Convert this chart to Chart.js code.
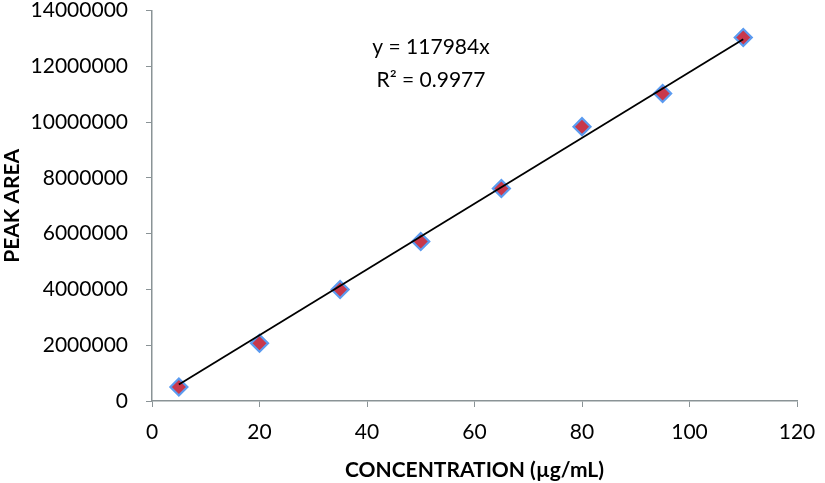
<!DOCTYPE html>
<html>
<head>
<meta charset="utf-8">
<script src="https://cdn.jsdelivr.net/npm/chart.js@4"></script>
<style>
  html, body { margin: 0; padding: 0; background: #fff; }
  #wrap { width: 825px; height: 483px; }
</style>
</head>
<body>
<div id="wrap"><canvas id="calib" width="825" height="483"></canvas></div>
<script>
var ctx = document.getElementById('calib').getContext('2d');
/* calibration data */
const conc = [5, 20, 35, 50, 65, 80, 95, 110];
const area = [500000, 2070000, 4000000, 5720000, 7620000, 9840000, 11030000, 13040000];
const slope = 117984;
const trendX = [5, 110];
const eqnText = ['y = 117984x', 'R\u00b2 = 0.9977'];

const axisGrey = '#8a9396';
const font = 'Lato, "Open Sans", sans-serif';

const eqnLabel = {
    id: 'eqnLabel',
    afterDraw(chart) {
        const c = chart.ctx;
        c.save();
        c.font = '21px ' + font;
        c.fillStyle = '#000';
        c.textAlign = 'center';
        c.textBaseline = 'middle';
        c.fillText(eqnText[0], 431, 47);
        c.fillText(eqnText[1], 431, 80);
        c.restore();
    }
};

var myChart = new Chart(ctx, {
    type: 'scatter',
    data: {
        datasets: [{
            label: 'Peak area',
            data: conc.map((x, i) => ({x: x, y: area[i]})),
            pointStyle: 'rectRot',
            pointRadius: 8.5,
            pointBackgroundColor: '#c8384c',
            pointBorderColor: '#5b9bf0',
            pointBorderWidth: 2.2,
            order: 2
        }, {
            type: 'line',
            label: 'Linear',
            data: trendX.map(x => ({x: x, y: slope * x})),
            borderColor: '#000',
            borderWidth: 1.8,
            pointRadius: 0,
            fill: false,
            order: 1
        }]
    },
    options: {
        responsive: false,
        animation: false,
        layout: { padding: { top: 9, right: 28, left: 0, bottom: 0 } },
        plugins: {
            legend: { display: false },
            tooltip: { enabled: false }
        },
        scales: {
            x: {
                type: 'linear',
                min: 0,
                max: 120,
                ticks: { stepSize: 20, color: '#000', font: { family: font, size: 21 }, padding: 13 },
                grid: { drawOnChartArea: false, drawTicks: true, tickLength: 6, color: axisGrey },
                border: { color: axisGrey, width: 1.5 },
                title: {
                    display: true,
                    text: 'CONCENTRATION (\u00b5g/mL)',
                    color: '#000',
                    font: { family: font, size: 21, weight: 'bold' },
                    padding: { top: 0, bottom: 0 }
                },
                afterFit(scale) { scale.height = 82; scale.paddingRight = 0; }
            },
            y: {
                min: 0,
                max: 14000000,
                ticks: {
                    stepSize: 2000000, color: '#000', font: { family: font, size: 21 }, padding: 18,
                    callback: v => String(v)
                },
                grid: { drawOnChartArea: false, drawTicks: true, tickLength: 6, color: axisGrey },
                border: { color: axisGrey, width: 1.5 },
                title: {
                    display: true,
                    text: 'PEAK AREA',
                    color: '#000',
                    font: { family: font, size: 21, weight: 'bold' },
                    padding: { top: 0, bottom: 0 }
                },
                afterFit(scale) { scale.width = 152; scale.paddingTop = 0; scale.paddingBottom = 0; }
            }
        }
    },
    plugins: [eqnLabel]
});
</script>
</body>
</html>
